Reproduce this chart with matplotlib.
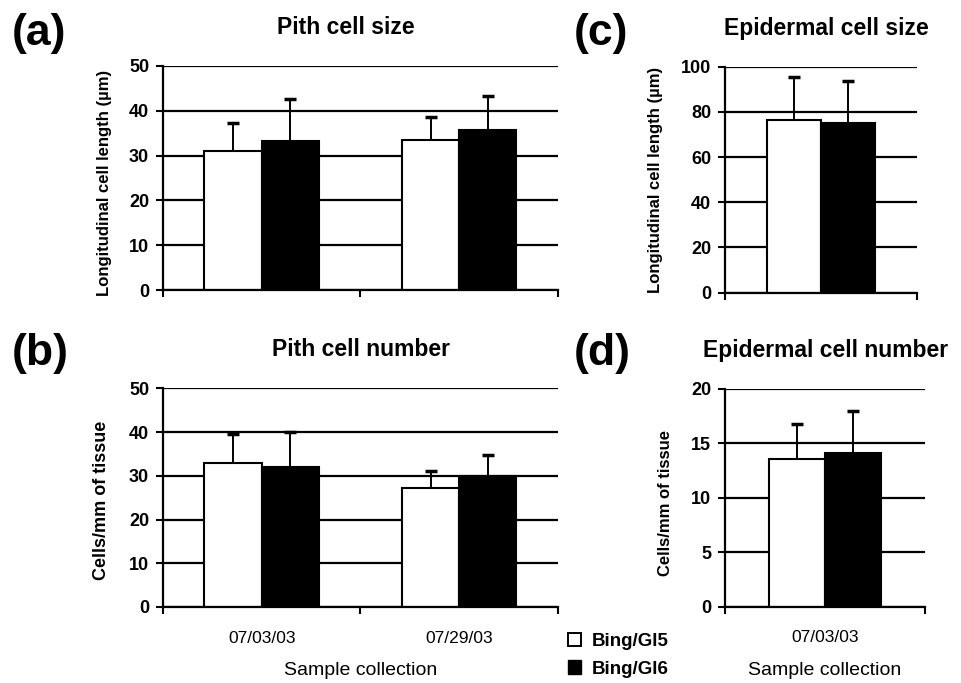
import matplotlib
matplotlib.use("Agg")
import matplotlib.pyplot as plt
import numpy as np
from matplotlib.patches import Patch

plt.rcParams['font.family'] = ['Liberation Sans', 'DejaVu Sans']

# --- data ---
dates_pith = ["07/03/03", "07/29/03"]
dates_epi = ["07/03/03"]
series_names = ["Bing/Gl5", "Bing/Gl6"]

pith_size_gl5 = [31.1, 33.5]
pith_size_gl5_err = [6.2, 5.2]
pith_size_gl6 = [33.3, 35.7]
pith_size_gl6_err = [9.3, 7.5]

pith_num_gl5 = [33.0, 27.3]
pith_num_gl5_err = [6.6, 3.9]
pith_num_gl6 = [32.0, 30.0]
pith_num_gl6_err = [8.0, 4.7]

epi_size_gl5 = [76.4]
epi_size_gl5_err = [18.9]
epi_size_gl6 = [75.0]
epi_size_gl6_err = [18.8]

epi_num_gl5 = [13.6]
epi_num_gl5_err = [3.2]
epi_num_gl6 = [14.15]
epi_num_gl6_err = [3.85]


def up_errbar(ax, x, v, e):
    # only the upper half of the error bar, like the original
    _, caps, _ = ax.errorbar(x, v, yerr=[np.zeros(len(v)), e], fmt='none',
                             ecolor='black', elinewidth=1.4, capsize=4.5,
                             capthick=2.5, zorder=3)
    caps[0].set_visible(False)


def draw_panel(ax, cats, v5, e5, v6, e6, ymax, ystep, ylabel, show_xlabels,
               ylabel_size, ylabel_pos, width=0.29):
    x = np.arange(len(cats))
    ax.set_axisbelow(True)
    ax.yaxis.grid(True, color='black', linewidth=1.6)
    ax.bar(x - width / 2, v5, width, color='white', edgecolor='black', linewidth=1.5, zorder=2)
    ax.bar(x + width / 2, v6, width, color='black', edgecolor='black', linewidth=1.5, zorder=2)
    up_errbar(ax, x - width / 2, v5, e5)
    up_errbar(ax, x + width / 2, v6, e6)
    ax.set_xlim(-0.5, len(cats) - 0.5)
    ax.set_ylim(0, ymax)
    yt = np.arange(0, ymax + 0.1, ystep)
    ax.set_yticks(yt)
    ax.set_yticklabels([f"{int(t)}" for t in yt], fontsize=13, fontweight='bold')
    ax.set_xticks(np.arange(len(cats) + 1) - 0.5)
    ax.set_xticklabels([])
    ax.tick_params(axis='x', which='major', length=5, width=1.5, direction='out')
    ax.tick_params(axis='y', length=5, width=1.5, direction='out', pad=5)
    if show_xlabels:
        ax.set_xticks(x, minor=True)
        ax.set_xticklabels(cats, minor=True, fontsize=12.5)
        ax.tick_params(axis='x', which='minor', length=0, pad=17)
        ax.set_xlabel("Sample collection", fontsize=14, labelpad=12)
    for s in ['top', 'right']:
        ax.spines[s].set_visible(False)
    for s in ['left', 'bottom']:
        ax.spines[s].set_linewidth(1.6)
    ax.set_ylabel(ylabel, fontsize=ylabel_size, fontweight='bold')
    ax.yaxis.set_label_coords(*ylabel_pos)


fig = plt.figure(figsize=(9.61, 6.83), dpi=100)

ax_a = fig.add_axes([0.1696, 0.5754, 0.411, 0.328])
ax_b = fig.add_axes([0.1696, 0.1113, 0.411, 0.320])
ax_c = fig.add_axes([0.7544, 0.5715, 0.200, 0.331])
ax_d = fig.add_axes([0.7544, 0.1117, 0.208, 0.319])

draw_panel(ax_a, dates_pith, pith_size_gl5, pith_size_gl5_err, pith_size_gl6, pith_size_gl6_err,
           50, 10, "Longitudinal cell length (\u00b5m)", False, 12, (-0.129, 0.48))
draw_panel(ax_b, dates_pith, pith_num_gl5, pith_num_gl5_err, pith_num_gl6, pith_num_gl6_err,
           50, 10, "Cells/mm of tissue", True, 13, (-0.134, 0.49))
draw_panel(ax_c, dates_epi, epi_size_gl5, epi_size_gl5_err, epi_size_gl6, epi_size_gl6_err,
           100, 20, "Longitudinal cell length (\u00b5m)", False, 12, (-0.323, 0.5), width=0.28)
draw_panel(ax_d, dates_epi, epi_num_gl5, epi_num_gl5_err, epi_num_gl6, epi_num_gl6_err,
           20, 5, "Cells/mm of tissue", True, 12, (-0.26, 0.476), width=0.28)

# panel titles
titles = ["Pith cell size", "Pith cell number", "Epidermal cell size", "Epidermal cell number"]
title_pos = [(346, 27), (361, 350), (826, 28), (826, 350)]
for t, (px, py) in zip(titles, title_pos):
    fig.text(px / 961, 1 - py / 683, t, fontsize=16.5, fontweight='bold',
             ha='center', va='center')

# panel letters
for lbl, px, py in [("(a)", 12, 34), ("(b)", 12, 353), ("(c)", 574, 34), ("(d)", 574, 353)]:
    fig.text(px / 961, 1 - py / 683, lbl, fontsize=32, fontweight='bold',
             ha='left', va='center')

handles = [Patch(facecolor='white', edgecolor='black', linewidth=1.4, label=series_names[0]),
           Patch(facecolor='black', edgecolor='black', label=series_names[1])]
fig.legend(handles=handles, loc='upper left', bbox_to_anchor=(0.573, 0.098),
           frameon=False, handlelength=0.7, handleheight=0.7, handletextpad=0.6,
           labelspacing=0.55, prop={'weight': 'bold', 'size': 13.5})

fig.savefig("out.png", dpi=100)
